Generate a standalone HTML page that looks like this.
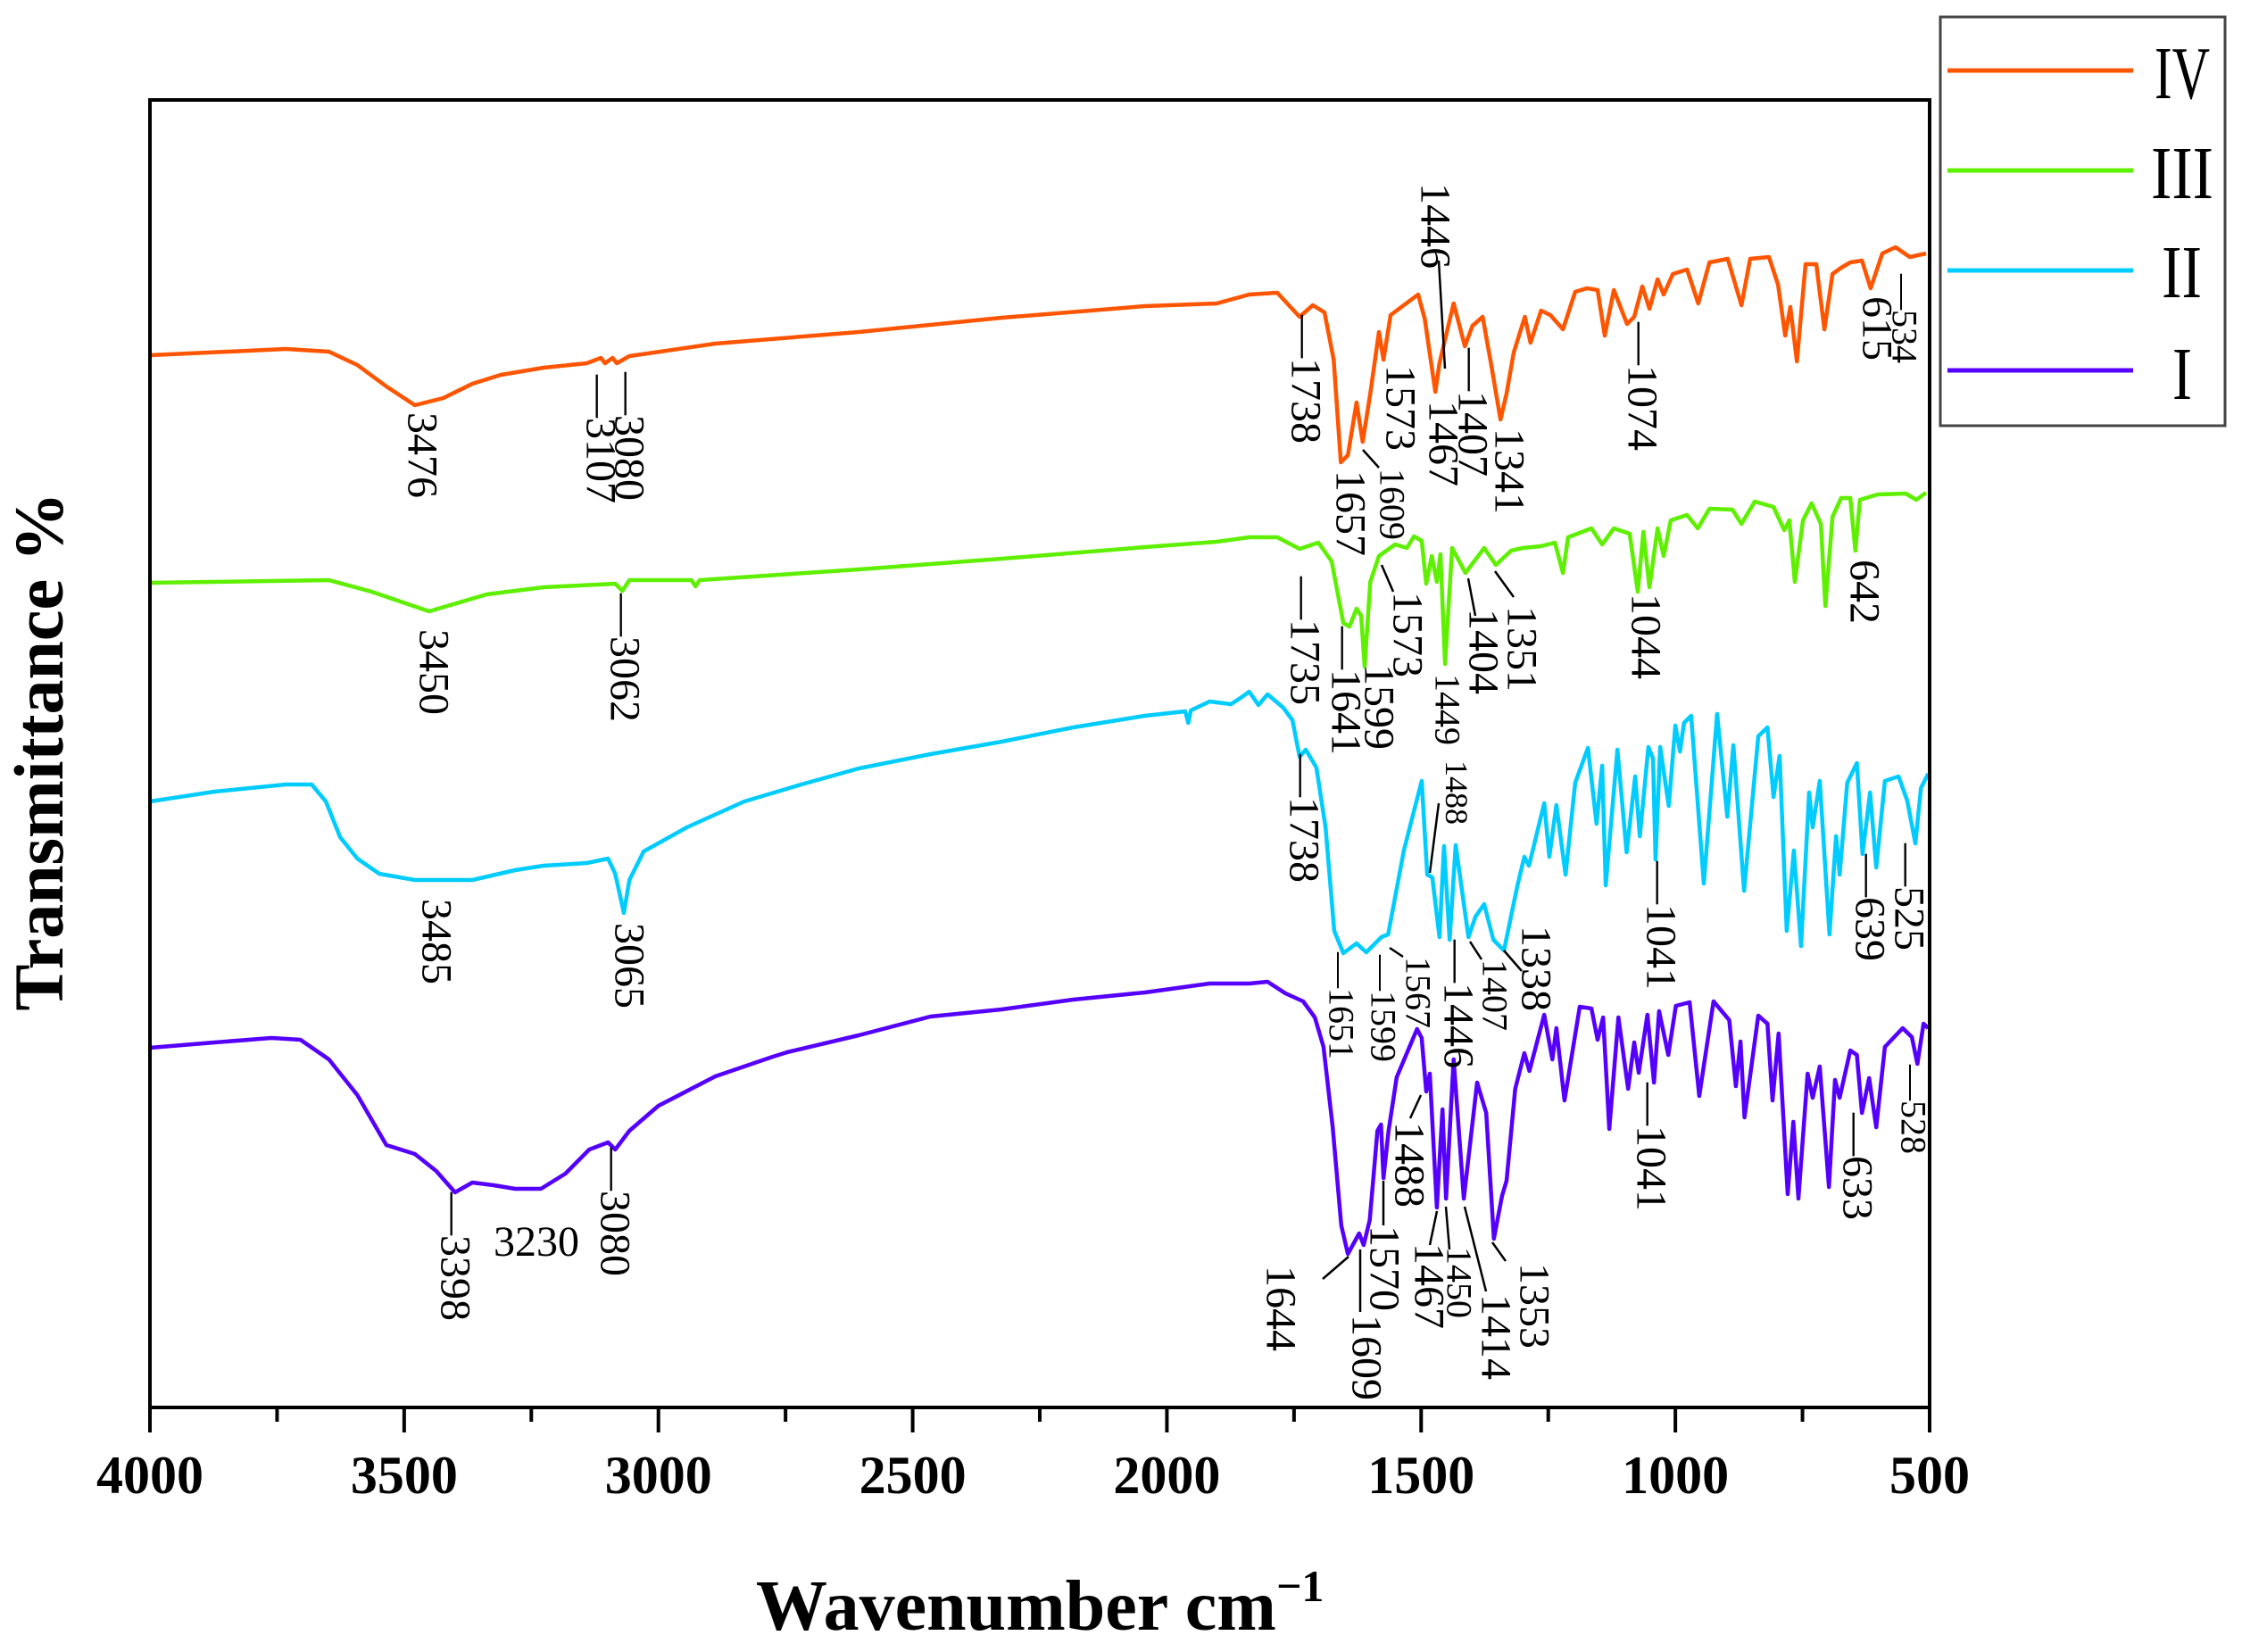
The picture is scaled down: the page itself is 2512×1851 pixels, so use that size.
<!DOCTYPE html>
<html><head><meta charset="utf-8"><style>
html,body{margin:0;padding:0;background:#fff;}
svg{display:block;}
text{font-family:"Liberation Serif",serif;fill:#000;}
.ann{font-size:48px;}
.sm{font-size:40px;}
.xs{font-size:36px;}
.ld{stroke:#000;stroke-width:2.5;}
</style></head><body>
<svg id="chart" width="2512" height="1851" viewBox="0 0 2512 1851" xmlns="http://www.w3.org/2000/svg">
<rect x="0" y="0" width="2512" height="1851" fill="#fff"/>
<g id="series"></g>
<rect x="168" y="112" width="1994" height="1465" fill="none" stroke="#000" stroke-width="4"/>
<g id="ticks"></g>
<text x="847" y="1826" style="font-size:80px;font-weight:bold">Wavenumber cm<tspan dy="-32" style="font-size:50px">−1</tspan></text>
<text x="0" y="0" transform="translate(70,842) rotate(-90)" text-anchor="middle" style="font-size:78px;font-weight:bold">Transmittance %</text>

<g>
<rect x="2174" y="19" width="319" height="458" fill="#fff" stroke="#444" stroke-width="3"/>
<line x1="2182" y1="79" x2="2390" y2="79" stroke="#ff5500" stroke-width="5"/>
<text x="2414" y="110" textLength="62" lengthAdjust="spacingAndGlyphs" style="font-size:84px">IV</text>
<line x1="2182" y1="191" x2="2390" y2="191" stroke="#5ef000" stroke-width="5"/>
<text x="2410" y="222" textLength="70" lengthAdjust="spacingAndGlyphs" style="font-size:84px">III</text>
<line x1="2182" y1="303" x2="2390" y2="303" stroke="#00ccff" stroke-width="5"/>
<text x="2422" y="333" textLength="45" lengthAdjust="spacingAndGlyphs" style="font-size:84px">II</text>
<line x1="2182" y1="415" x2="2390" y2="415" stroke="#5500ff" stroke-width="5"/>
<text x="2434" y="447" textLength="22" lengthAdjust="spacingAndGlyphs" style="font-size:84px">I</text>
</g>

<g>
<!-- IV -->
<text class="ann" x="473" y="462" dominant-baseline="central" transform="rotate(90 473 462)">3476</text>
<text class="ann" x="673" y="420" dominant-baseline="central" transform="rotate(90 673 420)">—3107</text>
<text class="ann" x="705" y="417" dominant-baseline="central" transform="rotate(90 705 417)">—3080</text>
<text class="ann" x="1463" y="353" dominant-baseline="central" transform="rotate(90 1463 353)">—1738</text>
<text class="ann" x="1513" y="527" dominant-baseline="central" transform="rotate(90 1513 527)">1657</text>
<line class="ld" x1="1527" y1="504" x2="1545" y2="524"/>
<text class="sm" x="1560" y="525" dominant-baseline="central" transform="rotate(90 1560 525)">1609</text>
<text class="ann" x="1569" y="409" dominant-baseline="central" transform="rotate(90 1569 409)">1573</text>
<text class="ann" x="1608" y="205" dominant-baseline="central" transform="rotate(90 1608 205)">1446</text>
<line class="ld" x1="1612" y1="292" x2="1619" y2="413"/>
<text class="ann" x="1650" y="390" dominant-baseline="central" transform="rotate(90 1650 390)">—1407</text>
<text class="ann" x="1617" y="449" dominant-baseline="central" transform="rotate(90 1617 449)">1467</text>
<text class="ann" x="1691" y="480" dominant-baseline="central" transform="rotate(90 1691 480)">1341</text>
<text class="ann" x="1840" y="361" dominant-baseline="central" transform="rotate(90 1840 361)">—1074</text>
<text class="ann" x="2103" y="332" dominant-baseline="central" transform="rotate(90 2103 332)">615</text>
<text class="sm" x="2134" y="307" dominant-baseline="central" transform="rotate(90 2134 307)">—534</text>
<!-- III -->
<text class="ann" x="486" y="705" dominant-baseline="central" transform="rotate(90 486 705)">3450</text>
<text class="ann" x="700" y="665" dominant-baseline="central" transform="rotate(90 700 665)">—3062</text>
<text class="ann" x="1462" y="646" dominant-baseline="central" transform="rotate(90 1462 646)">—1735</text>
<text class="ann" x="1508" y="702" dominant-baseline="central" transform="rotate(90 1508 702)">—1641</text>
<text class="ann" x="1545" y="744" dominant-baseline="central" transform="rotate(90 1545 744)">1599</text>
<text class="ann" x="1577" y="663" dominant-baseline="central" transform="rotate(90 1577 663)">1573</text>
<line class="ld" x1="1548" y1="633" x2="1561" y2="663"/>
<text class="sm" x="1622" y="755" dominant-baseline="central" transform="rotate(90 1622 755)">1449</text>
<text class="ann" x="1662" y="682" dominant-baseline="central" transform="rotate(90 1662 682)">1404</text>
<line class="ld" x1="1645" y1="648" x2="1653" y2="690"/>
<text class="ann" x="1705" y="679" dominant-baseline="central" transform="rotate(90 1705 679)">1351</text>
<line class="ld" x1="1675" y1="640" x2="1696" y2="669"/>
<text class="ann" x="1844" y="665" dominant-baseline="central" transform="rotate(90 1844 665)">1044</text>
<text class="ann" x="2089" y="627" dominant-baseline="central" transform="rotate(90 2089 627)">642</text>
<!-- II -->
<text class="ann" x="489" y="1007" dominant-baseline="central" transform="rotate(90 489 1007)">3485</text>
<text class="ann" x="705" y="1034" dominant-baseline="central" transform="rotate(90 705 1034)">3065</text>
<text class="ann" x="1461" y="845" dominant-baseline="central" transform="rotate(90 1461 845)">—1738</text>
<text class="xs" x="1632" y="852" dominant-baseline="central" transform="rotate(90 1632 852)">1488</text>
<line class="ld" x1="1612" y1="900" x2="1602" y2="978"/>
<text class="sm" x="1503" y="1067" dominant-baseline="central" transform="rotate(90 1503 1067)">—1651</text>
<text class="sm" x="1550" y="1070" dominant-baseline="central" transform="rotate(90 1550 1070)">—1599</text>
<text class="sm" x="1589" y="1072" dominant-baseline="central" transform="rotate(90 1589 1072)">1567</text>
<line class="ld" x1="1557" y1="1062" x2="1572" y2="1072"/>
<text class="ann" x="1634" y="1053" dominant-baseline="central" transform="rotate(90 1634 1053)">—1446</text>
<text class="sm" x="1675" y="1075" dominant-baseline="central" transform="rotate(90 1675 1075)">1407</text>
<line class="ld" x1="1647" y1="1055" x2="1660" y2="1075"/>
<text class="ann" x="1721" y="1037" dominant-baseline="central" transform="rotate(90 1721 1037)">1338</text>
<line class="ld" x1="1685" y1="1065" x2="1705" y2="1088"/>
<text class="ann" x="1861" y="965" dominant-baseline="central" transform="rotate(90 1861 965)">—1041</text>
<text class="ann" x="2095" y="957" dominant-baseline="central" transform="rotate(90 2095 957)">—639</text>
<text class="ann" x="2139" y="945" dominant-baseline="central" transform="rotate(90 2139 945)">—525</text>
<!-- I -->
<text class="ann" x="510" y="1336" dominant-baseline="central" transform="rotate(90 510 1336)">—3398</text>
<text class="ann" x="553" y="1407">3230</text>
<text class="ann" x="689" y="1286" dominant-baseline="central" transform="rotate(90 689 1286)">—3080</text>
<text class="ann" x="1435" y="1418" dominant-baseline="central" transform="rotate(90 1435 1418)">1644</text>
<line class="ld" x1="1482" y1="1433" x2="1511" y2="1408"/>
<text class="ann" x="1531" y="1473" dominant-baseline="central" transform="rotate(90 1531 1473)">1609</text>
<line class="ld" x1="1524" y1="1400" x2="1524" y2="1470"/>
<text class="ann" x="1551" y="1373" dominant-baseline="central" transform="rotate(90 1551 1373)">1570</text>
<line class="ld" x1="1550" y1="1323" x2="1550" y2="1373"/>
<text class="ann" x="1579" y="1257" dominant-baseline="central" transform="rotate(90 1579 1257)">1488</text>
<line class="ld" x1="1592" y1="1227" x2="1580" y2="1253"/>
<text class="ann" x="1601" y="1393" dominant-baseline="central" transform="rotate(90 1601 1393)">1467</text>
<line class="ld" x1="1610" y1="1357" x2="1602" y2="1395"/>
<text class="sm" x="1635" y="1397" dominant-baseline="central" transform="rotate(90 1635 1397)">1450</text>
<line class="ld" x1="1620" y1="1352" x2="1624" y2="1400"/>
<text class="ann" x="1676" y="1450" dominant-baseline="central" transform="rotate(90 1676 1450)">1414</text>
<line class="ld" x1="1641" y1="1352" x2="1665" y2="1447"/>
<text class="ann" x="1719" y="1415" dominant-baseline="central" transform="rotate(90 1719 1415)">1353</text>
<line class="ld" x1="1672" y1="1392" x2="1687" y2="1413"/>
<text class="ann" x="1850" y="1213" dominant-baseline="central" transform="rotate(90 1850 1213)">—1041</text>
<text class="ann" x="2081" y="1247" dominant-baseline="central" transform="rotate(90 2081 1247)">—633</text>
<text class="sm" x="2144" y="1193" dominant-baseline="central" transform="rotate(90 2144 1193)">—528</text>
</g>
</svg>
<script>
var xTicks = [4000, 3500, 3000, 2500, 2000, 1500, 1000, 500];
var xTickLabels = ["4000", "3500", "3000", "2500", "2000", "1500", "1000", "500"];
var xMinorTicks = [3750, 3250, 2750, 2250, 1750, 1250, 750];

var wnIV = [4000,3845,3733,3648,3592,3535,3479,3423,3366,3310,3226,3141,3113,3105,3090,3082,3057,2888,2606,2325,2043,1902,1838,1783,1739,1713,1690,1672,1658,1644,1627,1615,1600,1583,1574,1560,1506,1493,1472,1464,1436,1414,1399,1379,1364,1344,1332,1318,1296,1285,1264,1246,1221,1197,1174,1153,1139,1121,1095,1081,1065,1051,1035,1023,1005,977,955,933,897,870,853,816,798,784,774,761,744,723,707,691,674,656,633,616,593,567,539,507];
var tIV = [117.9,118.3,118.6,118.3,116.8,114.4,112.3,113.1,114.7,115.7,116.5,117.0,117.6,117.0,117.6,117.0,117.8,119.2,120.5,122.1,123.4,123.7,124.7,124.9,122.2,123.5,122.7,117.4,105.9,106.7,112.6,108.2,113.6,120.5,117.4,122.4,124.7,122.0,113.8,117.0,123.7,118.9,121.2,122.2,117.4,110.7,113.6,118.2,122.2,119.3,122.9,122.4,120.8,125.0,125.4,125.2,120.1,125.2,121.4,122.2,125.6,123.1,126.4,124.7,127.0,127.5,123.7,128.3,128.7,123.5,128.7,128.9,125.8,120.1,123.3,117.2,128.1,128.1,120.8,127.0,127.7,128.3,128.5,125.4,129.3,130.0,128.9,129.3];

var wnIII = [4000,3648,3564,3451,3338,3226,3085,3071,3057,2935,2927,2919,2606,2325,2043,1902,1838,1783,1739,1702,1676,1653,1641,1627,1618,1611,1600,1583,1551,1528,1514,1499,1490,1479,1469,1462,1453,1439,1413,1376,1353,1323,1300,1264,1237,1221,1211,1165,1144,1121,1090,1074,1063,1051,1035,1023,1009,977,956,933,888,870,844,807,786,776,765,749,732,714,705,691,674,656,646,637,602,547,526,507];
var tIII = [92.4,92.7,91.4,89.2,91.1,91.9,92.3,91.5,92.7,92.7,92.0,92.7,93.9,95.1,96.4,97.0,97.5,97.5,96.2,96.9,94.8,87.9,87.5,89.5,88.7,83.0,92.5,95.4,96.7,96.3,97.6,97.1,92.3,95.4,92.5,95.6,83.3,96.3,93.5,96.3,94.4,96.0,96.3,96.5,96.9,93.5,97.5,98.5,96.7,98.5,97.9,91.4,98.1,91.9,98.5,95.4,99.4,100.0,98.5,100.7,100.6,99.0,101.5,100.9,98.3,99.4,92.5,99.4,101.3,99.0,89.8,99.8,101.9,101.9,96.0,101.7,102.3,102.4,101.7,102.5];

var wnII = [4000,3873,3733,3682,3654,3626,3592,3549,3479,3366,3282,3226,3141,3099,3085,3068,3057,3029,2944,2831,2719,2606,2465,2325,2184,2043,1964,1958,1953,1916,1874,1855,1838,1820,1802,1771,1753,1739,1727,1706,1688,1671,1653,1627,1608,1578,1565,1534,1499,1488,1478,1464,1455,1444,1432,1407,1393,1376,1358,1337,1311,1297,1288,1258,1248,1234,1216,1197,1172,1155,1144,1137,1114,1096,1079,1070,1053,1044,1039,1030,1013,1000,991,983,969,944,918,898,886,865,837,819,807,795,781,767,753,737,730,716,697,684,677,662,643,632,617,605,588,561,544,528,517,503];
var tII = [67.9,69.0,69.8,69.8,67.9,63.9,61.5,59.8,59.1,59.1,60.2,60.7,61.0,61.5,59.8,55.4,59.1,62.3,65.0,67.9,69.8,71.6,73.2,74.6,76.2,77.5,78.0,76.7,78.1,79.1,78.8,79.5,80.2,78.7,79.9,78.4,77.0,72.9,73.7,71.7,65.0,53.4,50.9,52.0,51.0,52.7,53.0,62.4,70.2,59.7,59.4,52.7,62.9,52.4,63.0,52.7,55.0,56.4,52.4,51.2,58.4,61.7,60.7,67.7,61.7,67.5,59.7,70.0,73.9,65.4,71.9,58.5,73.7,62.2,70.7,64.0,74.0,72.7,61.4,74.0,67.4,76.4,73.5,76.7,77.5,58.7,77.7,66.2,74.2,57.9,75.2,76.2,68.4,73.0,53.4,62.4,51.7,68.9,65.0,70.2,53.0,64.0,59.7,70.0,72.2,62.0,68.9,60.5,70.2,70.7,68.0,63.2,69.4,71.0];

var wnI = [4000,3873,3761,3704,3648,3592,3535,3507,3479,3437,3400,3366,3324,3282,3231,3183,3136,3099,3085,3057,3000,2888,2775,2747,2606,2465,2325,2184,2043,1916,1838,1802,1767,1732,1709,1692,1674,1657,1644,1622,1613,1601,1586,1579,1574,1564,1548,1508,1499,1490,1483,1469,1458,1451,1436,1416,1390,1372,1357,1341,1332,1315,1297,1287,1258,1242,1234,1218,1188,1165,1153,1142,1130,1112,1093,1081,1072,1055,1042,1032,1014,999,972,953,925,894,881,872,864,837,819,809,797,779,768,758,740,730,716,698,686,677,656,643,633,619,605,588,553,535,524,512,503];
var tI = [40.3,40.9,41.4,41.2,39.0,35.0,29.4,28.9,28.4,26.5,24.1,25.2,24.9,24.5,24.5,26.2,28.9,29.7,28.9,31.0,33.8,37.1,39.3,39.8,41.7,43.8,44.6,45.7,46.5,47.5,47.5,47.7,46.4,45.5,43.7,40.4,31.4,20.4,17.2,19.5,18.2,21.0,31.0,31.7,25.7,31.0,37.0,42.4,41.4,35.4,37.4,22.4,33.4,23.4,39.0,23.4,36.4,33.0,18.9,23.7,25.4,35.7,39.7,37.7,44.0,39.0,42.5,34.4,44.9,44.7,41.2,43.7,31.2,43.7,35.7,40.9,37.5,44.0,36.4,44.4,39.5,45.0,45.4,34.9,45.5,43.4,36.0,41.0,32.5,43.9,43.0,34.4,41.9,23.9,32.0,23.4,37.4,34.7,38.2,24.7,36.7,34.7,40.0,39.5,33.0,36.9,31.4,40.4,42.5,41.5,38.5,43.0,42.5];

var NS = "http://www.w3.org/2000/svg";
function xScale(wn){ return 168 + (4000 - wn) / 3500 * 1994; }
function yScale(t){ return 1577 - t * 10; }

var seriesGroup = document.getElementById('series');
function drawSeries(wns, ts, color, name){
  var pts = [];
  for (var i = 0; i < wns.length && i < ts.length; i++) {
    pts.push(xScale(wns[i]).toFixed(1) + ',' + yScale(ts[i]).toFixed(1));
  }
  var pl = document.createElementNS(NS, 'polyline');
  pl.setAttribute('points', pts.join(' '));
  pl.setAttribute('fill', 'none');
  pl.setAttribute('stroke', color);
  pl.setAttribute('stroke-width', '4.5');
  pl.setAttribute('stroke-linejoin', 'round');
  
  
  seriesGroup.appendChild(pl);
}
drawSeries(wnIV, tIV, '#ff5500', 'spectrum-iv');
drawSeries(wnIII, tIII, '#5ef000', 'spectrum-iii');
drawSeries(wnII, tII, '#00ccff', 'spectrum-ii');
drawSeries(wnI, tI, '#5500ff', 'spectrum-i');

var tickGroup = document.getElementById('ticks');
for (var i = 0; i < xTicks.length; i++) {
  var x = xScale(xTicks[i]);
  var tl = document.createElementNS(NS, 'line');
  tl.setAttribute('x1', x); tl.setAttribute('x2', x);
  tl.setAttribute('y1', 1577); tl.setAttribute('y2', 1605);
  tl.setAttribute('stroke', '#000'); tl.setAttribute('stroke-width', '4');
  
  
  tickGroup.appendChild(tl);
  var tx = document.createElementNS(NS, 'text');
  tx.setAttribute('x', x); tx.setAttribute('y', 1673);
  tx.setAttribute('text-anchor', 'middle');
  tx.setAttribute('style', 'font-size:60px;font-weight:bold');
  tx.textContent = xTickLabels[i];
  
  
  tickGroup.appendChild(tx);
}
for (var j = 0; j < xMinorTicks.length; j++) {
  var mx = xScale(xMinorTicks[j]);
  var ml = document.createElementNS(NS, 'line');
  ml.setAttribute('x1', mx); ml.setAttribute('x2', mx);
  ml.setAttribute('y1', 1577); ml.setAttribute('y2', 1593);
  ml.setAttribute('stroke', '#000'); ml.setAttribute('stroke-width', '4');
  
  
  tickGroup.appendChild(ml);
}
</script>
</body></html>
